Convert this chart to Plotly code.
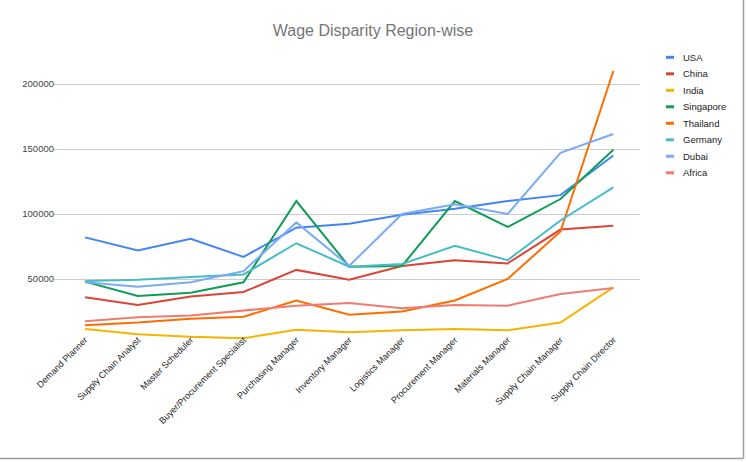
import plotly.graph_objects as go

categories = ["Demand Planner", "Supply Chain Analyst", "Master Scheduler",
              "Buyer/Procurement Specialist", "Purchasing Manager", "Inventory Manager",
              "Logistics Manager", "Procurement Manager", "Materials Manager",
              "Supply Chain Manager", "Supply Chain Director"]

usa       = [82000, 72000, 81000, 67000, 89500, 92500, 99500, 104000, 110000, 114500, 145000]
china     = [36000, 30000, 36500, 40000, 57000, 49500, 60000, 64500, 62000, 88000, 91000]
india     = [11500, 7500, 5500, 4500, 11000, 9000, 10500, 11500, 10500, 16500, 43500]
singapore = [48000, 37000, 39500, 47500, 110000, 59500, 60000, 110000, 90000, 111500, 149500]
thailand  = [14500, 16500, 19500, 21000, 33500, 22500, 25000, 33500, 50000, 86500, 210000]
germany   = [48500, 49500, 51500, 53500, 77500, 59500, 61500, 75500, 64500, 95000, 120500]
dubai     = [47500, 44000, 47500, 56000, 93500, 60000, 100000, 107500, 100000, 147000, 161500]
africa    = [17500, 20500, 22000, 26000, 29500, 31500, 27500, 30000, 29500, 38500, 43000]

series_names = ["USA", "China", "India", "Singapore", "Thailand", "Germany", "Dubai", "Africa"]
series_values = [usa, china, india, singapore, thailand, germany, dubai, africa]
colors = ["#4285F4", "#DB4437", "#F4B400", "#0F9D58", "#FF6D00", "#46BDC6", "#7BAAF7", "#F07B72"]

y_ticks = [50000, 100000, 150000, 200000]

FONT = "Liberation Sans, Arial, sans-serif"

fig = go.Figure()
for name, vals, col in zip(series_names, series_values, colors):
    fig.add_trace(go.Scatter(x=categories, y=vals, mode="lines", name=name,
                             line=dict(color=col, width=2), showlegend=False,
                             hoverinfo="x+y+name"))

W, H = 746, 462
L, R, T, B = 53, 106, 58, 118
pw = W - L - R
ph = H - T - B


def px_x(p):
    return (p - L) / pw


def px_y(p):
    return (T + ph - p) / ph


# legend drawn as in the reference: short dash + label
shapes = []
annotations = []
for i, (name, col) in enumerate(zip(series_names, colors)):
    yc = 57.3 + 16.5 * i
    shapes.append(dict(type="line", xref="paper", yref="paper",
                       x0=px_x(666), x1=px_x(674), y0=px_y(yc), y1=px_y(yc),
                       line=dict(color=col, width=3)))
    annotations.append(dict(text=name, xref="paper", yref="paper",
                            x=px_x(681), y=px_y(yc), xanchor="left", yanchor="middle",
                            showarrow=False, font=dict(family=FONT, size=9.5, color="#222222")))

# outer frame lines (right and bottom) seen in the screenshot
shapes.append(dict(type="line", xref="paper", yref="paper",
                   x0=px_x(743.5), x1=px_x(743.5), y0=px_y(458.5), y1=px_y(-5),
                   line=dict(color="#9e9e9e", width=1.5)))
shapes.append(dict(type="line", xref="paper", yref="paper",
                   x0=px_x(-5), x1=px_x(743.5), y0=px_y(458.5), y1=px_y(458.5),
                   line=dict(color="#9e9e9e", width=1.5)))

fig.update_layout(
    width=W, height=H,
    margin=dict(l=L, r=R, t=T, b=B, pad=0),
    paper_bgcolor="white", plot_bgcolor="white",
    font=dict(family=FONT, size=9, color="#444444"),
    showlegend=False,
    title=dict(text="Wage Disparity Region-wise", x=0.5, xref="container",
               y=1 - 30 / H, yref="container", xanchor="center", yanchor="middle",
               font=dict(family=FONT, size=16, color="#757575")),
    xaxis=dict(type="category", range=[-0.606, 10.505], showgrid=False,
               showline=False, zeroline=False, tickangle=-45, ticks="",
               ticklabelstandoff=-12,
               tickfont=dict(family=FONT, size=9, color="#222222")),
    yaxis=dict(range=[0, 220000], tickvals=y_ticks, ticktext=[str(v) for v in y_ticks],
               showgrid=True, gridcolor="#cccccc", gridwidth=1, zeroline=False,
               showline=False, ticks="", ticklabelstandoff=-2,
               tickfont=dict(family=FONT, size=9.5, color="#444444")),
    shapes=shapes,
    annotations=annotations,
)

fig.write_html("out.html")
